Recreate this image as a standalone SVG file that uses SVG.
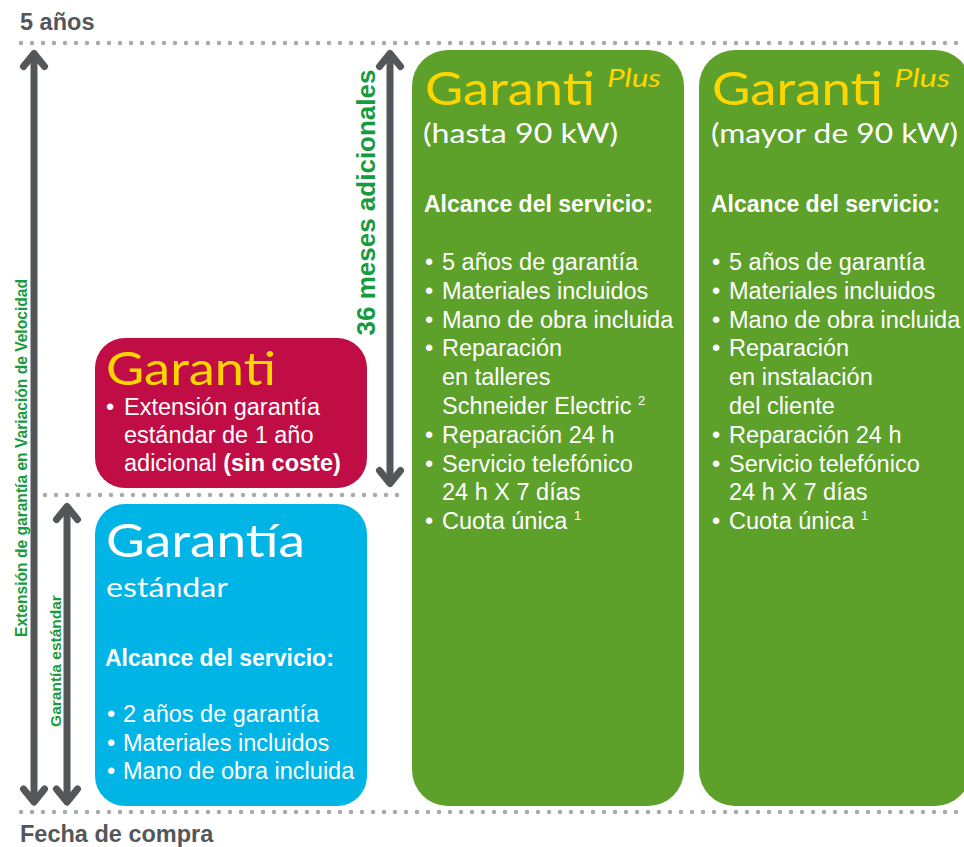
<svg xmlns="http://www.w3.org/2000/svg" width="964" height="847" viewBox="0 0 964 847">
<style>
.dots{fill:none;stroke:#A8AAAD;stroke-width:4.5;stroke-linecap:round;stroke-dasharray:0 11}
.arr{fill:none;stroke:#54575A;stroke-width:7;marker-start:url(#chev);marker-end:url(#chev)}
.axis{font-family:"Liberation Sans",Arial,sans-serif;font-weight:bold;font-size:23.5px;fill:#54575A}
.vlab{font-family:"Liberation Sans",Arial,sans-serif;font-weight:bold;fill:#179B3E;text-anchor:middle}
.hd{font-family:Lato,"Open Sans",sans-serif}
.title{font-size:46px;fill:#FFD500}
.plus{font-size:26px;fill:#FFD500;font-style:italic}
.sub{font-size:27px;fill:#fff}
.txt{font-family:"Liberation Sans",Arial,sans-serif;font-size:23.5px;fill:#fff}
.bul{font-family:"Liberation Sans",Arial,sans-serif;font-size:23.5px;fill:#fff;text-anchor:middle}
.bb{font-weight:bold}
.al{font-family:"Liberation Sans",Arial,sans-serif;font-size:23px;font-weight:bold;fill:#fff}
.sup{font-size:13px}
</style>
<defs>
<marker id="chev" viewBox="-20 -20 40 40" markerWidth="40" markerHeight="40" refX="0" refY="0" orient="auto-start-reverse" markerUnits="userSpaceOnUse">
<path d="M-13,-10.5 L0,0 L-13,10.5" fill="none" stroke="#54575A" stroke-width="7" stroke-linecap="round" stroke-linejoin="round"/>
</marker>
</defs>

<g id="scale">
<line class="dots" x1="21" y1="43" x2="964" y2="43"/>
<line class="dots" x1="45" y1="495" x2="406" y2="495"/>
<line class="dots" x1="21" y1="812" x2="964" y2="812"/>
<text class="axis" x="20" y="30">5 años</text>
<text class="axis" x="20" y="842">Fecha de compra</text>
</g>

<g id="connectors">
<line class="arr" x1="34" y1="53.5" x2="34" y2="802"/>
<line class="arr" x1="67" y1="506.5" x2="67" y2="802"/>
<line class="arr" x1="390" y1="53.5" x2="390" y2="483.5"/>
<text class="vlab" font-size="15.6" transform="translate(27,458) rotate(-90)">Extensión de garantía en Variación de Velocidad</text>
<text class="vlab" font-size="15.5" transform="translate(61,661) rotate(-90)">Garantía estándar</text>
<text class="vlab" font-size="26" transform="translate(375,202.5) rotate(-90)">36 meses adicionales</text>
</g>

<g id="garanti">
<rect x="95" y="338" width="272" height="150" rx="30" fill="#C00D45"/>
<text class="hd title" x="106" y="385" textLength="170" lengthAdjust="spacingAndGlyphs">Garanti</text>
<text class="bul" x="110" y="415">•</text>
<text class="txt" x="124" y="415">Extensión garantía</text>
<text class="txt" x="124" y="443">estándar de 1 año</text>
<text class="txt" x="124" y="471">adicional <tspan class="bb">(sin coste)</tspan></text>
</g>

<g id="standard">
<rect x="95" y="504" width="272" height="302" rx="30" fill="#00B5E6"/>
<text class="hd" x="106" y="557" font-size="46" fill="#fff" textLength="199" lengthAdjust="spacingAndGlyphs">Garantía</text>
<text class="hd" x="106" y="597" font-size="27" fill="#fff" textLength="122" lengthAdjust="spacingAndGlyphs">estándar</text>
<text class="al" x="105" y="666">Alcance del servicio:</text>
<text class="bul" x="111" y="722">•</text>
<text class="txt" x="123" y="722">2 años de garantía</text>
<text class="bul" x="111" y="750.5">•</text>
<text class="txt" x="123" y="750.5">Materiales incluidos</text>
<text class="bul" x="111" y="779">•</text>
<text class="txt" x="123" y="779">Mano de obra incluida</text>
</g>

<g id="plus90">
<rect x="412" y="50" width="272" height="756" rx="36" fill="#5DA12B"/>
<text class="hd title" x="425" y="105" textLength="170" lengthAdjust="spacingAndGlyphs">Garanti</text>
<text class="hd plus" x="607" y="87" textLength="54" lengthAdjust="spacingAndGlyphs">Plus</text>
<text class="hd sub" x="423" y="142.5" textLength="195" lengthAdjust="spacingAndGlyphs">(hasta 90 kW)</text>
<text class="al" x="424" y="212">Alcance del servicio:</text>
<text class="bul" x="429" y="270">•</text>
<text class="txt" x="442" y="270">5 años de garantía</text>
<text class="bul" x="429" y="298.8">•</text>
<text class="txt" x="442" y="298.8">Materiales incluidos</text>
<text class="bul" x="429" y="327.6">•</text>
<text class="txt" x="442" y="327.6">Mano de obra incluida</text>
<text class="bul" x="429" y="356.4">•</text>
<text class="txt" x="442" y="356.4">Reparación</text>
<text class="txt" x="442" y="385.2">en talleres</text>
<text class="txt" x="442" y="414">Schneider Electric <tspan class="sup" dy="-9">2</tspan></text>
<text class="bul" x="429" y="442.8">•</text>
<text class="txt" x="442" y="442.8">Reparación 24 h</text>
<text class="bul" x="429" y="471.6">•</text>
<text class="txt" x="442" y="471.6">Servicio telefónico</text>
<text class="txt" x="442" y="500.4">24 h X 7 días</text>
<text class="bul" x="429" y="529.2">•</text>
<text class="txt" x="442" y="529.2">Cuota única <tspan class="sup" dy="-9">1</tspan></text>
</g>

<g id="plusOver90">
<rect x="699" y="50" width="272" height="756" rx="36" fill="#5DA12B"/>
<text class="hd title" x="712" y="105" textLength="171" lengthAdjust="spacingAndGlyphs">Garanti</text>
<text class="hd plus" x="894" y="87" textLength="56" lengthAdjust="spacingAndGlyphs">Plus</text>
<text class="hd sub" x="711" y="142.5" textLength="247" lengthAdjust="spacingAndGlyphs">(mayor de 90 kW)</text>
<text class="al" x="711" y="212">Alcance del servicio:</text>
<text class="bul" x="716" y="270">•</text>
<text class="txt" x="729" y="270">5 años de garantía</text>
<text class="bul" x="716" y="298.8">•</text>
<text class="txt" x="729" y="298.8">Materiales incluidos</text>
<text class="bul" x="716" y="327.6">•</text>
<text class="txt" x="729" y="327.6">Mano de obra incluida</text>
<text class="bul" x="716" y="356.4">•</text>
<text class="txt" x="729" y="356.4">Reparación</text>
<text class="txt" x="729" y="385.2">en instalación</text>
<text class="txt" x="729" y="414">del cliente</text>
<text class="bul" x="716" y="442.8">•</text>
<text class="txt" x="729" y="442.8">Reparación 24 h</text>
<text class="bul" x="716" y="471.6">•</text>
<text class="txt" x="729" y="471.6">Servicio telefónico</text>
<text class="txt" x="729" y="500.4">24 h X 7 días</text>
<text class="bul" x="716" y="529.2">•</text>
<text class="txt" x="729" y="529.2">Cuota única <tspan class="sup" dy="-9">1</tspan></text>
</g>
</svg>
